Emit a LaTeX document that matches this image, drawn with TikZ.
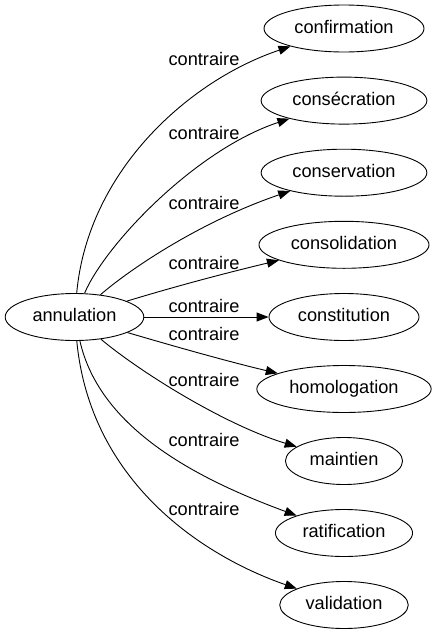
\documentclass[tikz,border=0pt]{standalone}
\usepackage{fontspec}
\setmainfont{Liberation Sans}
\usetikzlibrary{shapes.geometric,arrows.meta}
\begin{document}
\begin{tikzpicture}[x=1pt,y=-1pt,
  every node/.style={font=\fontsize{18.2}{22}\selectfont, text height=13pt, text depth=4pt},
  term/.style={ellipse, draw, line width=0.9pt, minimum height=47pt, inner xsep=7pt, inner ysep=2pt},
  lbl/.style={inner sep=0pt},
  edge/.style={draw, line width=0.9pt, -{Triangle[length=12pt,width=9pt]}}]
\fill[white] (0,0) rectangle (436,635);
\useasboundingbox (0,0) rectangle (436,635);
\node[term] (root) at (74.5,317) {annulation};
\node[term] (n1) at (344,28.5) {confirmation};
\node[term] (n2) at (344,100.6) {consécration};
\node[term] (n3) at (344,172.7) {conservation};
\node[term] (n4) at (344,244.8) {consolidation};
\node[term] (n5) at (344,317) {constitution};
\node[term] (n6) at (344,389) {homologation};
\node[term] (n7) at (344,461) {maintien};
\node[term] (n8) at (344,533) {ratification};
\node[term] (n9) at (344,605) {validation};
\draw[edge] (root) .. controls (88,170) and (190,80) .. (n1);
\draw[edge] (root) .. controls (105,245) and (195,150) .. (n2);
\draw[edge] (root) .. controls (135,265) and (205,220) .. (n3);
\draw[edge] (root) .. controls (180,285) and (230,272) .. (n4);
\draw[edge] (root) -- (n5);
\draw[edge] (root) .. controls (180,348) and (230,362) .. (n6);
\draw[edge] (root) .. controls (140,372) and (225,425) .. (n7);
\draw[edge] (root) .. controls (100,430) and (200,480) .. (n8);
\draw[edge] (root) .. controls (90,480) and (200,555) .. (n9);
\node[lbl] (l1) at (204,60.5) {contraire};
\node[lbl] (l2) at (204,134.5) {contraire};
\node[lbl] (l3) at (204,204.5) {contraire};
\node[lbl] (l4) at (204,264.5) {contraire};
\node[lbl] (l5) at (204,307.5) {contraire};
\node[lbl] (l6) at (204,335.5) {contraire};
\node[lbl] (l7) at (204,381.5) {contraire};
\node[lbl] (l8) at (204,441.5) {contraire};
\node[lbl] (l9) at (204,510.5) {contraire};
\end{tikzpicture}
\end{document}
